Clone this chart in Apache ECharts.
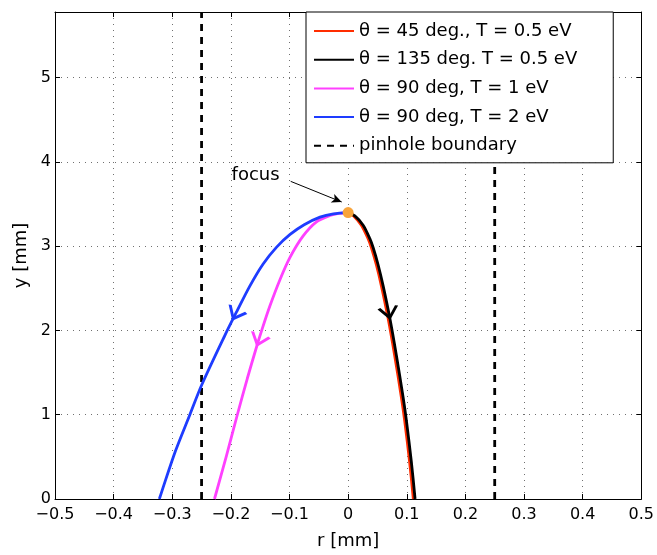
<!DOCTYPE html>
<html>
<head>
<meta charset="utf-8">
<script src="https://cdn.jsdelivr.net/npm/echarts@6/dist/echarts.min.js"></script>
<style>
  html, body { margin: 0; padding: 0; background: #fff; }
  #chart { width: 657px; height: 555px; }
</style>
</head>
<body>
<div id="chart"></div>
<script>
// ---- data ----
const seriesNames = ['θ = 45 deg., T = 0.5 eV', 'θ = 135 deg. T = 0.5 eV', 'θ = 90 deg, T = 1 eV', 'θ = 90 deg, T = 2 eV', 'pinhole boundary'];

const redR   = [0, 0.0094, 0.0226, 0.034, 0.0396, 0.0481, 0.0567, 0.068, 0.0794, 0.0907, 0.0964, 0.105, 0.1112];
const redY   = [3.40, 3.36, 3.25, 3.09, 2.985, 2.78, 2.53, 2.15, 1.70, 1.21, 0.93, 0.43, 0];

const blackR = [0, 0.0114, 0.0256, 0.037, 0.0426, 0.0511, 0.0597, 0.071, 0.0824, 0.0937, 0.0994, 0.108, 0.1142];
const blackY = [3.40, 3.36, 3.25, 3.09, 2.985, 2.78, 2.53, 2.15, 1.70, 1.21, 0.93, 0.43, 0];

const magentaR = [0, -0.016, -0.031, -0.054, -0.077, -0.0994, -0.1165, -0.1335, -0.147, -0.156, -0.172, -0.189, -0.2077, -0.228];
const magentaY = [3.40, 3.39, 3.365, 3.29, 3.12, 2.865, 2.60, 2.29, 2.01, 1.81, 1.43, 1.0, 0.51, 0];

const blueR = [0, -0.025, -0.048, -0.075, -0.099, -0.122, -0.145, -0.1675, -0.19, -0.21, -0.25, -0.27, -0.295, -0.322];
const blueY = [3.40, 3.385, 3.345, 3.255, 3.14, 2.99, 2.79, 2.53, 2.225, 1.945, 1.35, 1.0, 0.56, 0];

const pinholeR = [-0.25, 0.25];
const focusPoint = [0, 3.40];
const focusLabelPoint = [-0.116, 3.84];
const focusArrowStart = [-0.098, 3.77];
const focusArrowEnd = [-0.011, 3.525];

const arrowBlue = [-0.196, 2.14];
const arrowMagenta = [-0.155, 1.83];
const arrowBlack = [0.071, 2.15];

const xRange = [-0.5, 0.5], xStep = 0.1;
const yRange = [0, 5.78], yStep = 1;

// ---- helpers ----
const zip = (a, b) => a.map((v, i) => [v, b[i]]);
const FONT = 'DejaVu Sans';
const C = { red: '#ff2d00', black: '#000000', magenta: '#ff40ff', blue: '#1e3cff', orange: '#f8a43b' };

const arrowSize = [18, 11];
function arrowSeries(pt, rot, color) {
  const t = rot * Math.PI / 180, h = arrowSize[1] / 2;
  return {
    type: 'scatter', data: [pt], silent: true, z: 6,
    symbol: 'path://M0,0L9,11L18,0', symbolSize: arrowSize, symbolKeepAspect: false,
    symbolRotate: rot, symbolOffset: [-h * Math.sin(t), -h * Math.cos(t)],
    itemStyle: { color: 'none', borderColor: color, borderWidth: 2.6, opacity: 1 }
  };
}
function curve(name, r, y, color, z) {
  return {
    name, type: 'line', data: zip(r, y), symbol: 'none', showSymbol: false,
    smooth: 0.3, z: z, lineStyle: { color, width: 2.8 }, itemStyle: { color }
  };
}
function pinhole(x) {
  return {
    name: seriesNames[4], type: 'line', data: [[x, yRange[0]], [x, yRange[1]]],
    symbol: 'none', z: 2, lineStyle: { color: '#000', width: 2.8, type: [7, 6] }, itemStyle: { color: '#000' }
  };
}
const fmtX = v => { const s = (Math.round(v * 10) / 10).toString(); return s.replace('-', '\u2212'); };

const axisCommon = {
  type: 'value',
  axisLine: { show: true, onZero: false, lineStyle: { color: '#000', width: 1 } },
  axisTick: { show: true, inside: true, length: 5, lineStyle: { color: '#000', width: 1 } },
  splitLine: { show: false }
};

const chart = echarts.init(document.getElementById('chart'), null, { renderer: 'canvas' });
chart.setOption({
  animation: false,
  backgroundColor: '#fff',
  grid: { left: 55, right: 15, top: 12, bottom: 50, containLabel: false },
  xAxis: [
    Object.assign({}, axisCommon, {
      min: xRange[0], max: xRange[1], interval: xStep, position: 'bottom',
      axisLabel: { fontFamily: FONT, fontSize: 16, color: '#000', margin: 8, formatter: fmtX },
      splitLine: { show: true, lineStyle: { color: '#707070', width: 1, type: [1, 5] } },
      name: 'r [mm]', nameLocation: 'middle', nameGap: 33,
      nameTextStyle: { fontFamily: FONT, fontSize: 18, color: '#000' }
    }),
    Object.assign({}, axisCommon, {
      min: xRange[0], max: xRange[1], interval: xStep, position: 'top',
      axisLabel: { show: false }
    })
  ],
  yAxis: [
    Object.assign({}, axisCommon, {
      min: yRange[0], max: yRange[1], interval: yStep, position: 'left',
      axisLabel: { fontFamily: FONT, fontSize: 16, color: '#000', margin: 4, showMaxLabel: false,
        formatter: v => (Math.abs(v - Math.round(v)) < 1e-6 ? String(Math.round(v)) : '') },
      splitLine: { show: true, lineStyle: { color: '#707070', width: 1, type: [1, 5] } },
      name: 'y [mm]', nameLocation: 'middle', nameGap: 23,
      nameTextStyle: { fontFamily: FONT, fontSize: 18, color: '#000' }
    }),
    Object.assign({}, axisCommon, {
      min: yRange[0], max: yRange[1], interval: yStep, position: 'right',
      axisLabel: { show: false }
    })
  ],
  legend: {
    data: seriesNames,
    orient: 'vertical', left: 306, top: 12,
    padding: [9, 36, 7, 7],
    itemWidth: 40, itemHeight: 14, itemGap: 8.7,
    itemStyle: { opacity: 0 },
    backgroundColor: '#fff', borderColor: '#000', borderWidth: 1, borderRadius: 0,
    textStyle: { fontFamily: FONT, fontSize: 18, color: '#000', lineHeight: 20 },
    selectedMode: false
  },
  series: [
    curve(seriesNames[0], redR, redY, C.red, 3),
    curve(seriesNames[1], blackR, blackY, C.black, 4),
    curve(seriesNames[2], magentaR, magentaY, C.magenta, 3),
    curve(seriesNames[3], blueR, blueY, C.blue, 4),
    pinhole(pinholeR[0]),
    pinhole(pinholeR[1]),
    arrowSeries(arrowBlue, -26.7, C.blue),
    arrowSeries(arrowMagenta, -20, C.magenta),
    arrowSeries(arrowBlack, 10.8, C.black),
    {
      name: 'focus', type: 'scatter', data: [focusPoint], z: 10, silent: true,
      symbol: 'circle', symbolSize: 11, itemStyle: { color: C.orange, opacity: 1 },
      markLine: {
        silent: true, animation: false, symbol: ['none', 'arrow'], symbolSize: [7, 10],
        lineStyle: { color: '#000', width: 1, type: 'solid' }, label: { show: false },
        data: [[{ coord: focusArrowStart }, { coord: focusArrowEnd }]]
      }
    },
    {
      type: 'scatter', data: [focusLabelPoint], symbolSize: 1, silent: true,
      itemStyle: { color: 'rgba(0,0,0,0)' },
      label: { show: true, position: 'left', distance: 0, formatter: 'focus',
        fontFamily: FONT, fontSize: 18, color: '#000', opacity: 1 }
    }
  ]
});
</script>
</body>
</html>
